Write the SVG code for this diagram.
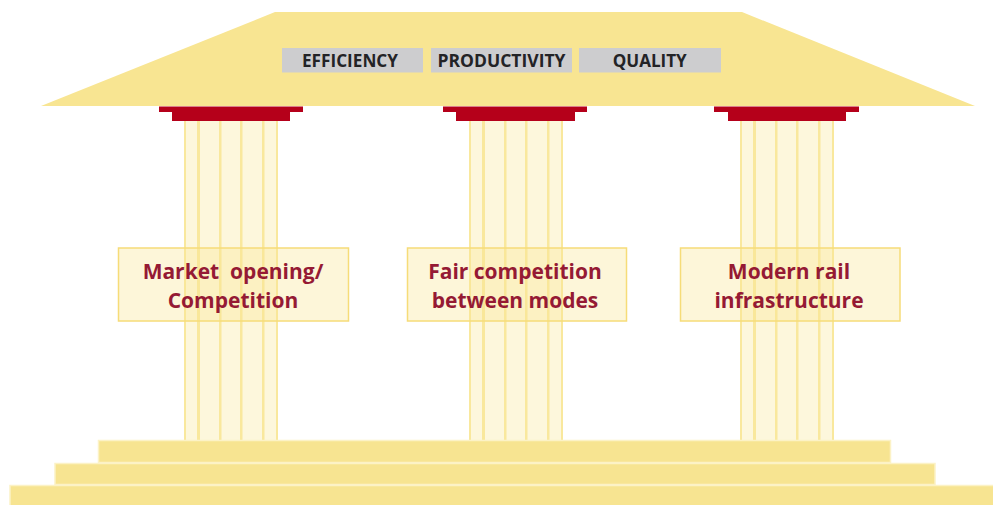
<svg xmlns="http://www.w3.org/2000/svg" width="993" height="505" viewBox="0 0 993 505">
<defs>
<style>
.roof{fill:#f8e592}
.tag{fill:#cdcdcf}
.tagt{font-family:"Open Sans","Liberation Sans",sans-serif;font-weight:bold;font-size:17px;fill:#232326;text-anchor:middle}
.cap{fill:#b5001a}
.shaft{fill:#f8e592;fill-opacity:0.32}
.stripe{fill:#f8e592;fill-opacity:0.85}
.box{fill:#f8e592;fill-opacity:0.35;stroke:#f6dc78;stroke-width:1.5}
.lbl{font-family:"Open Sans","Liberation Sans",sans-serif;font-weight:bold;font-size:21px;fill:#951a34;text-anchor:middle}
.step{fill:#f7e491;stroke:#fcf2c6;stroke-width:1.5}
</style>
<g id="colbody">
<rect class="shaft" x="0" y="121" width="94" height="319"/>
<rect class="stripe" x="0" y="121" width="2" height="319"/>
<rect class="stripe" x="13" y="121" width="3" height="319"/>
<rect class="stripe" x="35" y="121" width="2.5" height="319"/>
<rect class="stripe" x="56" y="121" width="2.5" height="319"/>
<rect class="stripe" x="78" y="121" width="2.5" height="319"/>
<rect class="stripe" x="92" y="121" width="2" height="319"/>
</g>
</defs>
<g id="roof">
<polygon class="roof" points="275,12 742,12 975,106 41,106"/>
</g>
<g id="efficiency">
<rect class="tag" x="282" y="48" width="141" height="24.5"/>
<text class="tagt" x="350" y="67" textLength="96" lengthAdjust="spacingAndGlyphs">EFFICIENCY</text>
</g>
<g id="productivity">
<rect class="tag" x="431" y="48" width="141" height="24.5"/>
<text class="tagt" x="501.5" y="67" textLength="128" lengthAdjust="spacingAndGlyphs">PRODUCTIVITY</text>
</g>
<g id="quality">
<rect class="tag" x="579" y="48" width="142" height="24.5"/>
<text class="tagt" x="649.7" y="67" textLength="74" lengthAdjust="spacingAndGlyphs">QUALITY</text>
</g>
<g id="column1">
<rect class="cap" x="159" y="106.5" width="144" height="5.5"/>
<rect class="cap" x="172" y="112" width="118" height="9"/>
<use href="#colbody" x="184"/>
</g>
<g id="column2">
<rect class="cap" x="443" y="106.5" width="144" height="5.5"/>
<rect class="cap" x="456" y="112" width="119" height="9"/>
<use href="#colbody" x="469"/>
</g>
<g id="column3">
<rect class="cap" x="714" y="106.5" width="145" height="5.5"/>
<rect class="cap" x="728" y="112" width="118" height="9"/>
<use href="#colbody" x="740"/>
</g>
<g id="label1">
<rect class="box" x="118.5" y="248" width="230" height="73"/>
<text class="lbl" x="233" y="278.5" xml:space="preserve">Market  opening/</text>
<text class="lbl" x="233" y="308">Competition</text>
</g>
<g id="label2">
<rect class="box" x="407.5" y="248" width="219" height="73"/>
<text class="lbl" x="515" y="278.5">Fair competition</text>
<text class="lbl" x="515" y="308">between modes</text>
</g>
<g id="label3">
<rect class="box" x="680.5" y="248" width="219.5" height="73"/>
<text class="lbl" x="789" y="278.5">Modern rail</text>
<text class="lbl" x="789" y="308">infrastructure</text>
</g>
<g id="steps">
<rect class="step" x="98.5" y="440.5" width="792" height="22"/>
<rect class="step" x="55" y="463.5" width="880" height="21"/>
<rect class="step" x="10" y="485.5" width="984" height="21"/>
</g>
</svg>
